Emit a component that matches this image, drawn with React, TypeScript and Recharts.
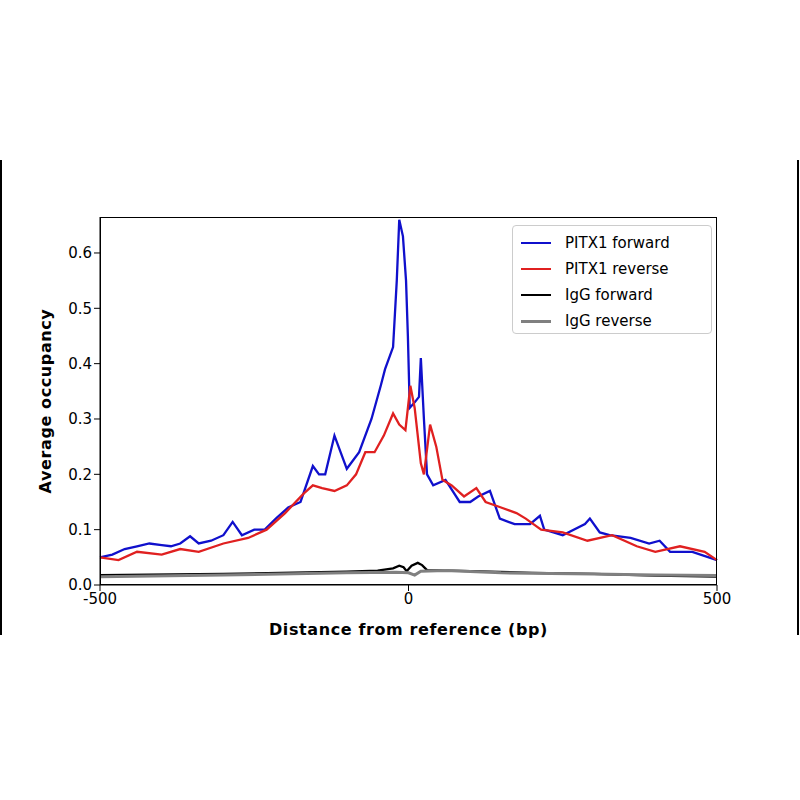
import { LineChart, Line, XAxis, YAxis } from 'recharts'

const pitxFwdX = [-500, -480, -460, -440, -420, -400, -385, -370, -354, -340, -320, -300, -285, -270, -250, -233, -215, -195, -175, -155, -145, -135, -120, -100, -80, -60, -45, -38, -25, -19, -15, -9, -4, -1, 2, 10, 17, 20, 25, 30, 40, 60, 83, 100, 113, 132, 148, 172, 197, 213, 220, 250, 286, 294, 310, 326, 360, 390, 407, 424, 460, 500]
const pitxFwdY = [0.05, 0.055, 0.065, 0.07, 0.075, 0.072, 0.07, 0.075, 0.088, 0.075, 0.08, 0.09, 0.114, 0.09, 0.1, 0.1, 0.12, 0.14, 0.15, 0.215, 0.2, 0.2, 0.27, 0.21, 0.24, 0.3, 0.36, 0.39, 0.43, 0.55, 0.66, 0.63, 0.55, 0.45, 0.32, 0.33, 0.34, 0.41, 0.3, 0.2, 0.18, 0.19, 0.15, 0.15, 0.16, 0.17, 0.12, 0.11, 0.11, 0.125, 0.1, 0.09, 0.11, 0.12, 0.095, 0.09, 0.085, 0.075, 0.08, 0.06, 0.06, 0.045]

const pitxRevX = [-500, -470, -440, -400, -370, -340, -300, -260, -230, -200, -170, -155, -140, -120, -100, -85, -70, -55, -40, -25, -15, -5, 3, 10, 20, 25, 35, 45, 55, 70, 90, 110, 125, 150, 175, 190, 215, 250, 290, 330, 370, 400, 440, 480, 500]
const pitxRevY = [0.05, 0.045, 0.06, 0.055, 0.065, 0.06, 0.075, 0.085, 0.1, 0.13, 0.165, 0.18, 0.175, 0.17, 0.18, 0.2, 0.24, 0.24, 0.27, 0.31, 0.29, 0.28, 0.36, 0.32, 0.22, 0.2, 0.29, 0.25, 0.19, 0.18, 0.16, 0.175, 0.15, 0.14, 0.13, 0.12, 0.1, 0.095, 0.08, 0.09, 0.07, 0.06, 0.07, 0.06, 0.045]

const iggFwdX = [-500, -300, -100, -50, -25, -15, -8, -3, 5, 15, 22, 30, 100, 200, 300, 400, 500]
const iggFwdY = [0.018, 0.02, 0.024, 0.026, 0.03, 0.035, 0.032, 0.025, 0.035, 0.04, 0.036, 0.027, 0.025, 0.022, 0.02, 0.017, 0.015]

const iggRevX = [-500, -300, -100, -20, 0, 10, 20, 60, 150, 300, 400, 500]
const iggRevY = [0.015, 0.018, 0.022, 0.023, 0.022, 0.018, 0.025, 0.026, 0.022, 0.02, 0.018, 0.017]

const yTicks = [0, 0.1, 0.2, 0.3, 0.4, 0.5, 0.6]
const xTicks = [-500, 0, 500]

const series = [
  { name: 'PITX1 forward', xs: pitxFwdX, ys: pitxFwdY, color: '#1010cc', width: 2.3 },
  { name: 'PITX1 reverse', xs: pitxRevX, ys: pitxRevY, color: '#e02020', width: 2.3 },
  { name: 'IgG forward', xs: iggFwdX, ys: iggFwdY, color: '#000000', width: 2.3 },
  { name: 'IgG reverse', xs: iggRevX, ys: iggRevY, color: '#808080', width: 3 },
]

const font = 'DejaVu Sans, sans-serif'

export default function App() {
  return (
    <div style={{ position: 'fixed', left: 0, top: 0, width: 800, height: 800, background: '#fff', fontFamily: font }}>
      <div style={{ position: 'absolute', left: 0, top: 160, width: 2, height: 475, background: '#000' }} />
      <div style={{ position: 'absolute', left: 797, top: 160, width: 2, height: 475, background: '#000' }} />
      <LineChart width={800} height={800} margin={{ top: 217, right: 83, bottom: 185, left: 40 }}>
        <XAxis type="number" dataKey="x" domain={[-500, 500]} ticks={xTicks} allowDuplicatedCategory={false}
          tick={{ fontSize: 15, fill: '#000', fontFamily: font }} stroke="#000" height={30}
          label={{ value: 'Distance from reference (bp)', position: 'insideBottom', offset: -20, style: { fontSize: 16, fontWeight: 'bold', fill: '#000', fontFamily: font, letterSpacing: 0.6 } }} />
        <YAxis type="number" domain={[0, 0.665]} ticks={yTicks} width={60} stroke="#000"
          tickFormatter={(v: number) => v.toFixed(1)}
          tick={{ fontSize: 15, fill: '#000', fontFamily: font }}
          label={{ value: 'Average occupancy', angle: -90, position: 'insideLeft', offset: 0, dx: 5, style: { textAnchor: 'middle', fontSize: 16, fontWeight: 'bold', fill: '#000', fontFamily: font, letterSpacing: 0.6 } }} />
        {series.map(s => (
          <Line key={s.name} data={s.xs.map((x, i) => ({ x, y: s.ys[i] }))} dataKey="y" type="linear"
            stroke={s.color} strokeWidth={s.width} dot={false} isAnimationActive={false} />
        ))}
      </LineChart>
      <div style={{ position: 'absolute', left: 100, top: 217, width: 617, height: 368, border: '1px solid #000', boxSizing: 'border-box', pointerEvents: 'none' }} />
      <div style={{ position: 'absolute', left: 512, top: 225, width: 200, height: 109, border: '1px solid #ccc', borderRadius: 4, boxSizing: 'border-box', background: '#fff', padding: '4px 8px' }}>
        {series.map(s => (
          <div key={s.name} style={{ display: 'flex', alignItems: 'center', height: 26, fontSize: 15 }}>
            <span style={{ display: 'inline-block', width: 30, height: s.width, background: s.color, marginRight: 14 }} />
            {s.name}
          </div>
        ))}
      </div>
    </div>
  )
}
